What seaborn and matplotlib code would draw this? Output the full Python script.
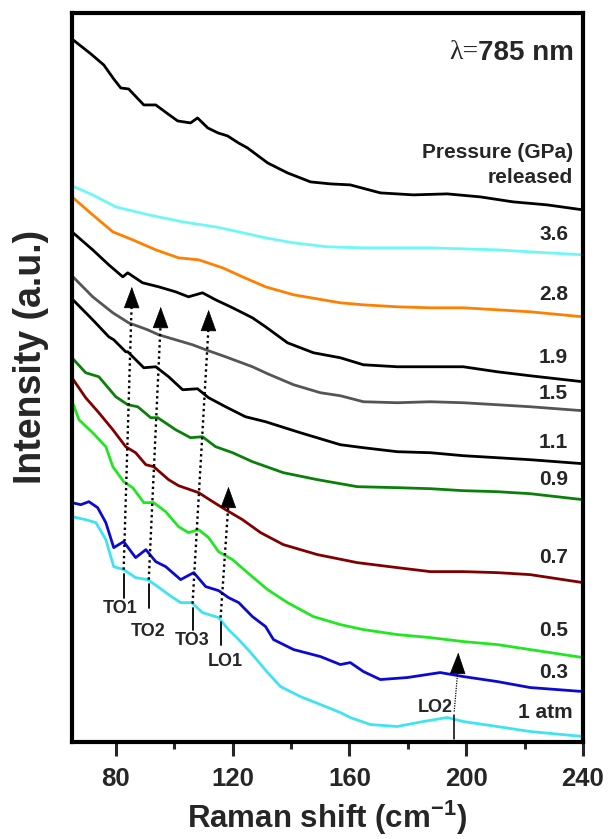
#!/usr/bin/env python3
# Raman spectra under pressure release (785 nm excitation), stacked curves

import pandas as pd
import matplotlib.pyplot as plt
import seaborn as sns

# ---- spectra (x in cm-1, intensity in a.u., already offset) ----
x_rel = [65, 71.5, 75.9, 79.3, 81.7, 84.4, 89.6, 93.7, 97.4, 101.2, 105.6, 108, 111.5, 115, 118.3, 122, 125.1, 132,
         138.8, 146.7, 153.5, 160.3, 170.6, 181.9, 193.5, 204.8, 216.1, 227.7, 240]
y_rel = [703, 688, 677, 663, 654, 653, 637, 637, 629, 621, 619, 624, 614, 609, 606, 599, 594, 579,
         569, 560, 558, 557, 549, 547, 548, 545, 540, 537, 532]

x_36 = [65, 72.1, 80, 91.3, 102.9, 114.2, 122.1, 131.3, 140.9, 152.5, 164.8, 176.4, 187.7, 199, 210.6, 221.9, 240]
y_36 = [556, 547, 535, 527, 520, 515, 510, 504, 499, 495, 494, 494, 494, 493, 492, 490, 487]

x_28 = [65, 72.1, 79, 85.8, 93.7, 101.5, 108.4, 116.6, 123.4, 131.3, 140.9, 156.9, 164.8, 176.4, 187.7, 199, 210.6,
        221.9, 240]
y_28 = [545, 527, 510, 502, 492, 484, 482, 474, 465, 455, 447, 439, 437, 435, 434, 434, 432, 430, 425]

x_19 = [65, 72.1, 77.6, 82.4, 84.1, 89.2, 94.7, 100.5, 104.9, 109.7, 114.2, 120, 126.8, 131.3, 138.8, 147.7, 156.9,
        164.8, 176.4, 187.7, 199, 210.6, 221.9, 240]
y_19 = [510, 492, 477, 465, 469, 459, 455, 450, 445, 449, 442, 434, 424, 415, 399, 389, 384, 377, 375, 375, 375, 370,
        366, 360]

x_15 = [65, 72.1, 79, 84.4, 90.9, 94.7, 100.5, 106.3, 110.8, 117.6, 126.8, 132, 140.9, 150.1, 156.9, 164.8, 176.4,
        187.7, 199, 210.6, 221.9, 240]
y_15 = [466, 445, 429, 419, 412, 407, 402, 397, 392, 385, 375, 368, 357, 349, 346, 340, 339, 340, 339, 337, 335, 331]

x_11 = [65, 72.1, 77.6, 79.3, 83.4, 84.1, 89.6, 93.7, 98.1, 102.9, 108, 111.8, 117.6, 124.4, 131.3, 143.2, 156.9,
        164.8, 176.4, 187.7, 199, 210.6, 221.9, 240]
y_11 = [443, 422, 405, 402, 390, 390, 374, 375, 365, 352, 353, 344, 335, 325, 320, 309, 297, 294, 290, 289, 286, 284,
        282, 278]

x_09 = [65, 69.7, 74.2, 80, 84.1, 87.5, 92, 94.4, 100.5, 105.6, 109.7, 114.2, 120, 126.8, 137.4, 149.1, 162.7, 176.4,
        187.7, 199, 210.6, 221.9, 240]
y_09 = [384, 369, 365, 345, 337, 335, 324, 324, 312, 304, 305, 295, 289, 280, 269, 262, 255, 254, 253, 251, 250, 248,
        242]

x_07 = [65, 69.7, 74.2, 79, 83.4, 86.8, 90.3, 93, 98.1, 101.5, 108.4, 113.2, 117.6, 123.4, 129.6, 137.4, 149.1, 162.7,
        176.4, 187.7, 199, 210.6, 221.9, 240]
y_07 = [364, 344, 329, 312, 295, 289, 277, 275, 262, 256, 249, 240, 232, 222, 209, 197, 187, 179, 174, 170, 170, 169,
        167, 159]

x_05 = [65, 67.4, 72.1, 76.6, 79, 82.7, 85.8, 89.6, 93, 97.1, 101.5, 104.9, 108.4, 111.8, 115.2, 120, 125.1, 132,
        138.8, 147.7, 156.9, 164.8, 176.4, 187.7, 199, 210.6, 221.9, 240]
y_05 = [341, 322, 309, 295, 275, 260, 254, 239, 239, 230, 215, 209, 212, 204, 190, 182, 169, 152, 139, 125, 117, 112,
        107, 104, 100, 97, 92, 84]

x_03 = [65, 68, 70.8, 73.8, 76.6, 79.3, 82.7, 86.8, 90.3, 93.7, 97.1, 102.2, 106.7, 110.8, 115.2, 118.6, 122.1, 126.8,
        131.3, 134, 140.9, 150.1, 156.9, 160.3, 164.8, 170.6, 179.8, 191.1, 199, 210.6, 221.9, 240]
y_03 = [239, 237, 240, 234, 219, 194, 200, 184, 192, 180, 175, 162, 169, 155, 151, 144, 139, 125, 115, 102, 92, 85, 77,
        79, 70, 62, 64, 69, 65, 60, 54, 50]

x_atm = [65, 69.7, 73.2, 76.6, 79.3, 82.7, 86.8, 90.9, 94.4, 98.1, 102.2, 106, 109.7, 115.2, 118.6, 122.1, 126.2, 132,
         136.4, 143.2, 150.1, 156.9, 160.3, 167.2, 176.4, 185.3, 193.5, 199, 210.6, 221.9, 240]
y_atm = [225, 222, 219, 202, 175, 172, 164, 162, 155, 147, 139, 139, 129, 124, 112, 102, 89, 69, 55, 45, 37, 29, 24,
         17, 15, 20, 24, 20, 15, 10, 5]

series_x = [x_rel, x_36, x_28, x_19, x_15, x_11, x_09, x_07, x_05, x_03, x_atm]
series_y = [y_rel, y_36, y_28, y_19, y_15, y_11, y_09, y_07, y_05, y_03, y_atm]
series_names = ['released', '3.6', '2.8', '1.9', '1.5', '1.1', '0.9', '0.7', '0.5', '0.3', '1 atm']
colors = ['black', '#6ff7f7', '#ff8000', 'black', '#555555', 'black', '#0a800a', '#800000', '#22e622', '#0a0ad2',
          '#3fe3f2']

# right-hand pressure labels
label_text = ['3.6', '2.8', '1.9', '1.5', '1.1', '0.9', '0.7', '0.5', '0.3', '1 atm']
label_y = [507, 447, 384, 348, 299, 262, 184, 111, 69, 29]

# mode assignments: tick x, tick top/bottom, text position, arrow tip
modes = ['TO1', 'TO2', 'TO3', 'LO1']
mode_x = [82.7, 91.3, 106.3, 115.9]
mode_tick_top = [168, 158, 134, 120]
mode_tick_bot = [144, 134, 112, 97]
mode_text_x = [81.4, 91.0, 106.0, 117.6]
mode_text_y = [133, 110, 101, 80]
mode_tip_x = [85.5, 95.4, 111.8, 118.6]
mode_tip_y = [455, 435, 432, 255]

# build long-form table
rows = []
for name, xs, ys in zip(series_names, series_x, series_y):
    for xv, yv in zip(xs, ys):
        rows.append({'shift': xv, 'intensity': yv, 'pressure': name})
df = pd.DataFrame(rows)

sns.set_style("white")
plt.rcParams['font.family'] = ['Liberation Sans', 'DejaVu Sans']
plt.rcParams['font.weight'] = 'bold'
plt.rcParams['mathtext.fontset'] = 'custom'
plt.rcParams['mathtext.rm'] = 'Liberation Sans:bold'
plt.rcParams['mathtext.bf'] = 'Liberation Sans:bold'

fig = plt.figure(figsize=(6.12, 8.39), dpi=100)
ax = fig.add_axes([0.1176, 0.1162, 0.835, 0.8683])

sns.lineplot(data=df, x='shift', y='intensity', hue='pressure', palette=dict(zip(series_names, colors)),
             hue_order=series_names, estimator=None, sort=False, linewidth=2.0, legend=False, ax=ax)

# dotted arrows following the modes
for i in range(len(modes)):
    base_y = mode_tip_y[i] - 20
    ax.plot([mode_x[i], mode_tip_x[i] - 0.1], [mode_tick_top[i] + 4, base_y], color='black', lw=1.7,
            linestyle=(0, (1, 1.4)))
    ax.annotate('', xy=(mode_tip_x[i], mode_tip_y[i]), xytext=(mode_tip_x[i] - 0.05, base_y + 1),
                arrowprops=dict(arrowstyle='-|>,head_length=0.6,head_width=0.22', color='black',
                                lw=0.5, mutation_scale=24, shrinkA=0, shrinkB=0))
    ax.plot([mode_x[i], mode_x[i]], [mode_tick_top[i], mode_tick_bot[i]], color='black', lw=1.3)
    ax.text(mode_text_x[i], mode_text_y[i], modes[i], ha='center', va='center', fontsize=13, fontweight='bold')

# LO2 (thin)
ax.plot([195.9, 195.9], [27, 3], color='black', lw=1.1)
ax.plot([195.9, 197.1], [30, 70], color='black', lw=0.9, linestyle=(0, (1, 1)))
ax.annotate('', xy=(197.3, 89), xytext=(197.1, 69),
            arrowprops=dict(arrowstyle='-|>,head_length=0.6,head_width=0.22', color='black',
                            lw=0.5, mutation_scale=24, shrinkA=0, shrinkB=0))
ax.text(189.4, 34, 'LO2', ha='center', va='center', fontsize=13, fontweight='bold')

# right-hand labels
for txt, yv in zip(label_text, label_y):
    xr = 236.6 if txt == '1 atm' else 234.9
    ax.text(xr, yv, txt, ha='right', va='center', fontsize=15, fontweight='bold')
ax.text(236.6, 589, 'Pressure (GPa)', ha='right', va='center', fontsize=15, fontweight='bold')
ax.text(236.6, 564, 'released', ha='right', va='center', fontsize=15, fontweight='bold')

t = ax.text(236.9, 689, '785 nm', ha='right', va='center', fontsize=20, fontweight='bold')
ax.annotate('λ=', xy=(0, 0.5), xycoords=t, ha='right', va='center', fontsize=20,
            fontweight='normal', family=['Liberation Serif', 'DejaVu Serif'])

ax.set_xlim(65, 240)
ax.set_ylim(0, 729)
ax.set_xticks([80, 120, 160, 200, 240])
ax.set_xticks([100, 140, 180, 220], minor=True)
ax.set_yticks([])
ax.tick_params(axis='x', which='major', direction='out', length=10, width=2.2, labelsize=18.5, pad=8,
               bottom=True)
ax.tick_params(axis='x', which='minor', direction='out', length=5, width=2.2, bottom=True)
for lab in ax.get_xticklabels():
    lab.set_fontweight('bold')
for sp in ax.spines.values():
    sp.set_linewidth(3)
    sp.set_color('black')

ax.set_xlabel(r'Raman shift (cm$^{-1}$)', fontsize=22.5, fontweight='bold', labelpad=6)
ax.set_ylabel('Intensity (a.u.)', fontsize=27, fontweight='bold')
ax.yaxis.set_label_coords(-0.045, 0.528)

plt.savefig('out.png', dpi=100)
